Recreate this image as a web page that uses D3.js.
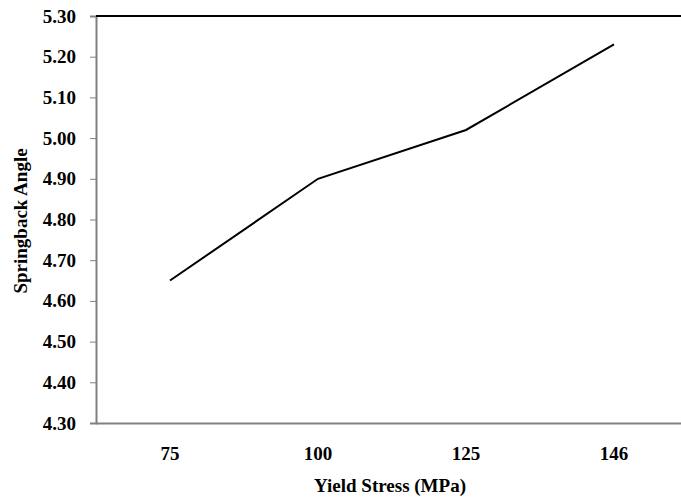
<!DOCTYPE html>
<html><head><meta charset="utf-8">
<script src="https://cdn.jsdelivr.net/npm/d3@7"></script>
<style>body{margin:0;background:#fff}svg{display:block}</style>
</head><body>
<svg id="c" width="681" height="499"></svg>
<script>
const categories = ["75", "100", "125", "146"];
const values = [4.65, 4.90, 5.02, 5.23];
const yTicks = [4.30, 4.40, 4.50, 4.60, 4.70, 4.80, 4.90, 5.00, 5.10, 5.20, 5.30];

(function () {
const svg = d3.select("#c");
const mLeft = 96, mTop = 16, mBottom = 423, mRight = 688;
const x = d3.scaleBand().domain(categories).range([mLeft, mRight]);
const y = d3.scaleLinear().domain([4.30, 5.30]).range([mBottom, mTop]);
const font = "'Liberation Serif','Times New Roman',serif";

// y axis
const ya = svg.append("g").attr("transform", `translate(${mLeft},0)`)
  .call(d3.axisLeft(y).tickValues(yTicks).tickFormat(d3.format(".2f")).tickSize(6).tickPadding(14));
ya.select(".domain").attr("stroke", "#808080").attr("stroke-width", 2);
ya.selectAll(".tick line").attr("stroke", "#808080");
ya.selectAll("text").attr("font-family", font).attr("font-weight", "bold").attr("font-size", 19).attr("fill", "#000");

// x axis
const xa = svg.append("g").attr("transform", `translate(0,${mBottom})`)
  .call(d3.axisBottom(x).tickSize(0).tickPadding(24));
xa.select(".domain").attr("stroke", "#808080").attr("stroke-width", 2);
xa.selectAll("text").attr("font-family", font).attr("font-weight", "bold").attr("font-size", 19).attr("fill", "#000");

// top border
svg.append("line").attr("x1", mLeft).attr("x2", mRight).attr("y1", y(5.30)).attr("y2", y(5.30))
  .attr("stroke", "#000").attr("stroke-width", 2);

// line
svg.append("path")
  .datum(categories.map((c, i) => [c, values[i]]))
  .attr("fill", "none").attr("stroke", "#000").attr("stroke-width", 2)
  .attr("d", d3.line().x(d => x(d[0]) + x.bandwidth() / 2).y(d => y(d[1])));

// titles
svg.append("text").attr("x", 390).attr("y", 492).attr("text-anchor", "middle")
  .attr("font-family", font).attr("font-weight", "bold").attr("font-size", 19).text("Yield Stress (MPa)");
svg.append("text").attr("transform", "translate(27,221) rotate(-90)").attr("text-anchor", "middle")
  .attr("font-family", font).attr("font-weight", "bold").attr("font-size", 19).text("Springback Angle");
})();
</script>
</body></html>
